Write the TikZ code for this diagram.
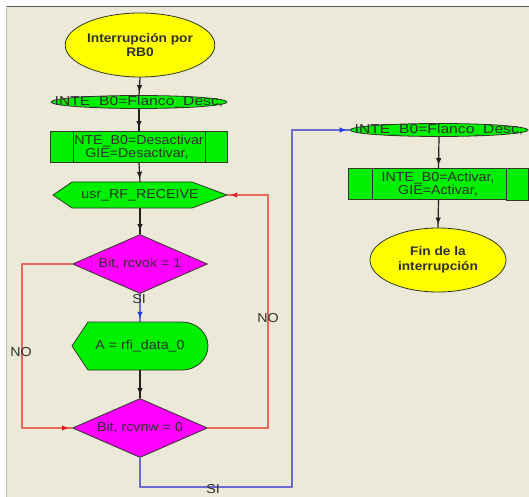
\documentclass[tikz,border=0pt]{standalone}
\usepackage{fontspec}
\usepackage{graphicx}
\setmainfont{Liberation Sans}[FakeStretch=1.1]
\usetikzlibrary{shapes.geometric,decorations.markings,arrows.meta}
\definecolor{bgc}{HTML}{ECE9D8}
\definecolor{yel}{HTML}{FFFF00}
\definecolor{grn}{HTML}{00F000}
\definecolor{mag}{HTML}{FF00FF}
\definecolor{edge}{HTML}{303828}
\definecolor{txt}{HTML}{303030}
\definecolor{redl}{HTML}{E46A5E}
\definecolor{redA}{HTML}{E02020}
\definecolor{bluel}{HTML}{6C6CD0}
\definecolor{blueA}{HTML}{1E3CE6}
\definecolor{blk}{HTML}{202020}
\begin{document}
\begin{tikzpicture}[x=1bp,y=-1bp,
  reg/.style={font=\fontsize{13}{13}\selectfont, text=txt},
  term/.style={ellipse, draw=edge, fill=yel, line width=0.8bp, minimum width=136bp, minimum height=64bp, inner sep=0pt, align=center, text=txt, font=\fontsize{12.5}{15}\selectfont\bfseries},
  flan/.style={ellipse, draw=edge, fill=grn, line width=0.8bp, minimum width=176bp, minimum height=13bp, inner sep=0pt},
  proc/.style={rectangle, draw=edge, fill=grn, line width=0.8bp, minimum height=31bp, inner sep=0pt},
  dia/.style={diamond, aspect=2.3, draw=edge, fill=mag, line width=0.8bp, minimum width=135bp, minimum height=59bp, inner sep=0pt, text=txt, font=\fontsize{13}{13}\selectfont},
  ghost/.style={rectangle, inner sep=0pt},
  shp/.style={draw=edge, fill=grn, line width=0.8bp},
  panel/.style={draw=edge, fill=grn, line width=0.8bp},
  arr/.style={decoration={markings, mark=at position -3bp with {\arrow{Latex[length=7bp,width=5.5bp,color=#1]}}}, postaction={decorate}},
  con/.style={draw=blk, line width=1.2bp, arr=blk},
  rcon/.style={draw=redl, line width=1.2bp, arr=redA},
  bcon/.style={draw=bluel, line width=1.2bp, arr=blueA},
  lab/.style={font=\fontsize{13}{13}\selectfont, text=txt, inner sep=0pt}
]
\useasboundingbox (0,0) rectangle (529,497);
\fill[white] (0,0) rectangle (529,497);
\fill[bgc] (6,6) rectangle (529,497);
\draw[gray!70!black, line width=1.5bp] (6,6.5) -- (529,6.5);
\draw[gray!50, line width=1bp] (6.5,6) -- (6.5,497);

% left column
\node[term] (start) at (140,45) {Interrupción por\\RB0};
\node[flan] (fl1) at (139,102) {};
\node[reg, inner sep=0pt] (fl1t) at (139,102) {\scalebox{1.1}[1]{INTE\_B0=Flanco\_Desc,}};

\node[proc, minimum width=176bp] (r3) at (139,147) {};
\node[reg, align=center, inner sep=0pt] (r3t) at (137,147) {INTE\_B0=Desactivar\\GIE=Desactivar,};
\draw[panel] (r3.north west) rectangle (73,162.5);
\draw[panel] (205,131.5) rectangle (r3.south east);

\path[shp] (53,195) -- (72,182) -- (192,182) -- (227,195) -- (192,208) -- (72,208) -- cycle;
\node[ghost, minimum width=174bp, minimum height=26bp, reg] (hexn) at (140,195) {usr\_RF\_RECEIVE};

\node[dia] (d1) at (140,264) {Bit, rcvok = 1};

\path[shp] (72,346) -- (88,322) -- (182,322) arc[start angle=90, end angle=-90, x radius=26bp, y radius=24bp] -- (88,370) -- cycle;
\node[ghost, minimum width=136bp, minimum height=48bp, reg] (disp) at (140,346) {A = rfi\_data\_0};

\node[dia] (d2) at (140,428) {Bit, rcvnw = 0};

% right column
\node[flan, minimum width=178bp] (fl2) at (439,130) {};
\node[reg, inner sep=0pt] (fl2t) at (439,130) {\scalebox{1.1}[1]{INTE\_B0=Flanco\_Desc,}};

\node[proc, minimum width=179bp] (r9) at (438.5,184) {};
\node[reg, align=center, inner sep=0pt] (r9t) at (438,184) {INTE\_B0=Activar,\\GIE=Activar,};
\draw[panel] (r9.north west) rectangle (372,199.5);
\draw[panel] (506,168.5) rectangle (r9.south east);

\node[term] (fin) at (438,260) {Fin de la\\interrupción};

% helper coordinates
\coordinate (cL) at (22,264);
\coordinate (cR) at (268,428);
\coordinate (cB) at (292,487);

% connectors
\draw[con] (start.south) -- (fl1.north);
\draw[con] (fl1.south) -- (r3.north);
\draw[con] (r3.south) -- (hexn.north);
\draw[con] (hexn.south) -- (d1.north);
\draw[bcon] (d1.south) -- (disp.north);
\draw[con] (disp.south) -- (d2.north);
\draw[rcon] (d1.west) -- (cL) |- (d2.west);
\draw[rcon] (d2.east) -- (cR) |- (hexn.east);
\draw[bcon] (d2.south) |- (cB) |- (fl2.west);
\draw[con] (fl2.south) -- (r9.north);
\draw[con] (r9.south) -- (fin.north);

% labels
\node[lab] (siA) at (139,299) {SI};
\node[lab] (noL) at (21,352) {NO};
\node[lab] (noR) at (268,318) {NO};
\node[lab] (siB) at (213,489) {SI};
\end{tikzpicture}
\end{document}
